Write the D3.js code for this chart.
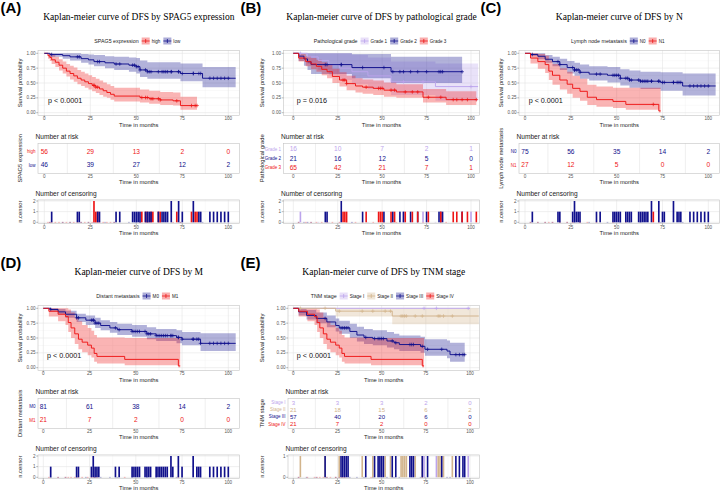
<!DOCTYPE html>
<html><head><meta charset="utf-8">
<script src="https://cdn.jsdelivr.net/npm/d3@7"></script>
<style>body{margin:0;background:#fff}svg{display:block}text{font-family:"Liberation Sans",Arial,sans-serif}</style>
</head><body><svg id="c" width="720" height="491"></svg>
<script>
// ---------- shared ticks ----------
const timeTicks=[0,25,50,75,100];
const probTicks=[0,0.25,0.5,0.75,1];
const probLabels=["0.00","0.25","0.50","0.75","1.00"];
const RED="#EE1515",BLUE="#10108C",PURPLE="#BCA4EC",TAN="#D2B48C";

// ---------- Panel A : SPAG5 ----------
const A_high_t=[0,2,3,4,6,8,10,12,14,16,18,20,22,24,26,28,30,32,34,36,38,52,57,63,70,74];
const A_high_s=[1,.96,.93,.89,.85,.80,.75,.70,.66,.62,.58,.55,.52,.49,.46,.43,.40,.37,.34,.31,.28,.255,.235,.215,.20,.12];
const A_high_lo=[1,.91,.87,.82,.77,.71,.66,.61,.56,.52,.48,.45,.42,.39,.36,.33,.30,.27,.25,.22,.19,.17,.15,.13,.12,.05];
const A_high_hi=[1,1,1,.97,.94,.9,.86,.82,.79,.76,.72,.69,.66,.63,.6,.57,.54,.51,.48,.45,.42,.39,.37,.35,.34,.27];
const A_high_end=83;
const A_high_cens=[27,27,28,29,53,55,56,58,59,62,63,72,80,82,83];
const A_low_t=[0,3,10,14,20,24,27,33,38,46,50,52,56,74,86];
const A_low_s=[1,.98,.96,.94,.91,.89,.86,.84,.82,.80,.775,.72,.69,.66,.58];
const A_low_lo=[1,.94,.91,.88,.84,.81,.78,.75,.72,.69,.66,.6,.57,.53,.43];
const A_low_hi=[1,1,1,1,.99,.98,.97,.95,.94,.93,.92,.88,.85,.83,.77];
const A_low_end=104;
const A_low_cens=[4,18,19,29,30,39,41,48,49,50,51,52,55,56,57,58,62,64,65,66,67,69,69,73,73,75,81,81,84,85,90,92,94,96,98,100];
const A_risk_high=[56,29,13,2,0];
const A_risk_low=[46,39,27,12,2];

// ---------- Panel B : grade ----------
const B_g1_t=[0,8,14,20,26,33,42,55,80];
const B_g1_s=[1,.94,.88,.81,.75,.69,.62,.52,.44];
const B_g1_lo=[1,.82,.72,.63,.55,.48,.4,.3,.2];
const B_g1_hi=[1,1,1,1,1,.97,.93,.86,.83];
const B_g1_end=104;
const B_g1_cens=[4,62,73,100];
const B_g2_t=[0,3,6,8,10,33,55];
const B_g2_s=[1,.952,.905,.857,.81,.76,.69];
const B_g2_lo=[1,.87,.79,.72,.65,.58,.5];
const B_g2_hi=[1,1,1,1,1,.99,.94];
const B_g2_end=95;
const B_g2_cens=[18,19,27,27,39,51,56,60,62,66,70,75,82,83,84,95];
const B_g3_t=[0,3,7,10,13,16,19,22,26,30,35,39,45,51,58,73,86];
const B_g3_s=[1,.92,.86,.82,.78,.73,.69,.61,.55,.49,.45,.43,.41,.38,.35,.26,.22];
const B_g3_lo=[1,.86,.78,.73,.69,.63,.58,.5,.44,.38,.34,.32,.3,.27,.25,.17,.13];
const B_g3_hi=[1,.99,.95,.92,.89,.85,.81,.74,.68,.62,.58,.56,.54,.51,.48,.4,.36];
const B_g3_end=103;
const B_g3_cens=[28,29,30,41,48,49,50,55,57,63,67,70,76,83,90,92,95,98,103];
const B_risk_g1=[16,10,7,2,1];
const B_risk_g2=[21,16,12,5,0];
const B_risk_g3=[65,42,21,7,1];

// ---------- Panel C : N ----------
const C_n0_t=[0,3,7,11,15,19,23,27,30,35,45,52,57,63,74,86];
const C_n0_s=[1,.98,.95,.9,.86,.81,.76,.72,.68,.65,.63,.58,.55,.53,.51,.45];
const C_n0_lo=[1,.95,.9,.84,.78,.72,.66,.62,.57,.54,.51,.46,.42,.4,.37,.29];
const C_n0_hi=[1,1,1,.97,.94,.91,.87,.84,.81,.78,.77,.73,.71,.69,.68,.66];
const C_n0_end=104;
const C_n0_cens=[4,18,19,26,27,27,28,29,30,39,41,48,49,50,51,52,55,56,57,58,62,63,64,65,66,67,69,69,73,73,75,76,81,81,83,84,85,90,92,94,96,98,100];
const C_n1_t=[0,3,7,11,13,15,19,23,26,30,34,39,48,55,73];
const C_n1_s=[1,.92,.86,.81,.7,.63,.55,.48,.41,.36,.26,.22,.19,.14,.03];
const C_n1_lo=[1,.83,.74,.67,.55,.47,.39,.32,.25,.2,.13,.1,.08,.05,.005];
const C_n1_hi=[1,1,.99,.96,.88,.82,.75,.69,.62,.57,.47,.44,.42,.42,.42];
const C_n1_end=74;
const C_n1_cens=[70];
const C_risk_n0=[75,56,35,14,2];
const C_risk_n1=[27,12,5,0,0];

// ---------- Panel D : M ----------
const D_m0_t=[0,4,8,12,18,23,28,31,36,40,48,56,61,72,75,85];
const D_m0_s=[1,.98,.94,.9,.84,.8,.75,.71,.67,.64,.61,.57,.54,.51,.48,.41];
const D_m0_lo=[1,.95,.9,.84,.77,.72,.67,.63,.59,.55,.52,.48,.45,.41,.38,.28];
const D_m0_hi=[1,1,.99,.96,.91,.88,.84,.8,.77,.74,.72,.68,.65,.63,.6,.58];
const D_m0_end=104;
const D_m0_cens=[4,18,19,26,27,27,28,29,30,39,41,48,49,50,51,52,55,56,57,58,61,62,63,64,65,66,67,69,69,70,73,73,75,81,81,83,84,85,90,92,94,96,98,100];
const D_m1_t=[0,3,8,12,13.5,15,17,19,21,24,26,27.5,29,44,73];
const D_m1_s=[1,.95,.9,.86,.76,.67,.57,.48,.43,.38,.33,.24,.19,.14,.03];
const D_m1_lo=[1,.86,.78,.72,.6,.5,.4,.31,.26,.21,.17,.1,.07,.04,.005];
const D_m1_hi=[1,1,1,1,.98,.93,.85,.78,.72,.67,.62,.55,.51,.5,.5];
const D_m1_end=74;
const D_m1_cens=[];
const D_risk_m0=[81,61,38,14,2];
const D_risk_m1=[21,7,2,0,0];

// ---------- Panel E : TNM ----------
const E_s1_t=[0], E_s1_s=[1], E_s1_lo=[1], E_s1_hi=[1];
const E_s1_end=100;
const E_s1_cens=[74,81,99];
const E_s2_t=[0,24,56];
const E_s2_s=[1,.952,.87];
const E_s2_lo=[1,.86,.73];
const E_s2_hi=[1,1,1];
const E_s2_end=105;
const E_s2_cens=[4,18,26,39,45,52,55,61,62,63,64,69,73,82,83,85,90];
const E_s3_t=[0,3,7.5,13,19,24,26,32,36,40,45,53,57,60,72,74.5,87,88.7];
const E_s3_s=[1,.94,.88,.83,.77,.71,.67,.61,.55,.51,.49,.45,.42,.39,.36,.31,.28,.22];
const E_s3_lo=[1,.88,.81,.75,.68,.61,.57,.5,.44,.4,.38,.34,.31,.28,.25,.2,.16,.1];
const E_s3_hi=[1,1,.97,.93,.88,.83,.79,.74,.69,.65,.63,.6,.57,.54,.52,.48,.46,.42];
const E_s3_end=97;
const E_s3_cens=[18,27,28,29,30,31,41,46,48,49,50,51,56,58,66,67,68,73,76,84,92,94,96,97];
const E_s4_t=[0,3,8,12,13.5,15,17,19,21,24,26,27.5,29,44,73];
const E_s4_s=[1,.95,.9,.86,.76,.67,.57,.48,.43,.38,.33,.24,.19,.14,.03];
const E_s4_lo=[1,.86,.78,.72,.6,.5,.4,.31,.26,.21,.17,.1,.07,.04,.005];
const E_s4_hi=[1,1,1,1,.98,.93,.85,.78,.72,.67,.62,.55,.51,.5,.5];
const E_s4_end=74;
const E_s4_cens=[];
const E_risk_s1=[3,3,3,2,0];
const E_risk_s2=[21,18,15,6,2];
const E_risk_s3=[57,40,20,6,0];
const E_risk_s4=[21,7,2,0,0];

// ---------- build panel configs ----------
const grp=(name,color,t,s,lo,hi,end,cens,risk)=>({name,color,t,s,lo,hi,end,cens,risk});
const panels=[
 {label:"(A)",ox:0,oy:0,left:38,x0:44.3,x100:228.3,ylx:20,title:"Kaplan-meier curve of DFS by SPAG5 expression",
  legend:"SPAG5 expression",pval:"p < 0.0001",cmax:2,
  groups:[grp("high",RED,A_high_t,A_high_s,A_high_lo,A_high_hi,A_high_end,A_high_cens,A_risk_high),
          grp("low",BLUE,A_low_t,A_low_s,A_low_lo,A_low_hi,A_low_end,A_low_cens,A_risk_low)]},
 {label:"(B)",ox:240,oy:0,left:283.5,x0:293.3,x100:471,ylx:22,title:"Kaplan-meier curve of DFS by pathological grade",
  legend:"Pathological grade",pval:"p = 0.016",cmax:2,
  groups:[grp("Grade 1",PURPLE,B_g1_t,B_g1_s,B_g1_lo,B_g1_hi,B_g1_end,B_g1_cens,B_risk_g1),
          grp("Grade 2",BLUE,B_g2_t,B_g2_s,B_g2_lo,B_g2_hi,B_g2_end,B_g2_cens,B_risk_g2),
          grp("Grade 3",RED,B_g3_t,B_g3_s,B_g3_lo,B_g3_hi,B_g3_end,B_g3_cens,B_risk_g3)]},
 {label:"(C)",ox:480,oy:0,left:519,x0:525,x100:708.3,ylx:21,title:"Kaplan-meier curve of DFS by N",
  legend:"Lymph node metastasis",pval:"p < 0.0001",cmax:2,
  groups:[grp("N0",BLUE,C_n0_t,C_n0_s,C_n0_lo,C_n0_hi,C_n0_end,C_n0_cens,C_risk_n0),
          grp("N1",RED,C_n1_t,C_n1_s,C_n1_lo,C_n1_hi,C_n1_end,C_n1_cens,C_risk_n1)]},
 {label:"(D)",ox:0,oy:255,left:38,x0:43.3,x100:228.3,ylx:20,title:"Kaplan-meier curve of DFS by M",
  legend:"Distant metastasis",pval:"p < 0.0001",cmax:2,
  groups:[grp("M0",BLUE,D_m0_t,D_m0_s,D_m0_lo,D_m0_hi,D_m0_end,D_m0_cens,D_risk_m0),
          grp("M1",RED,D_m1_t,D_m1_s,D_m1_lo,D_m1_hi,D_m1_end,D_m1_cens,D_risk_m1)]},
 {label:"(E)",ox:240,oy:255,left:288,x0:293.3,x100:470,ylx:22,title:"Kaplan-meier curve of DFS by TNM stage",
  legend:"TNM stage",pval:"p < 0.0001",cmax:1,
  groups:[grp("Stage I",PURPLE,E_s1_t,E_s1_s,E_s1_lo,E_s1_hi,E_s1_end,E_s1_cens,E_risk_s1),
          grp("Stage II",TAN,E_s2_t,E_s2_s,E_s2_lo,E_s2_hi,E_s2_end,E_s2_cens,E_risk_s2),
          grp("Stage III",BLUE,E_s3_t,E_s3_s,E_s3_lo,E_s3_hi,E_s3_end,E_s3_cens,E_risk_s3),
          grp("Stage IV",RED,E_s4_t,E_s4_s,E_s4_lo,E_s4_hi,E_s4_end,E_s4_cens,E_risk_s4)]}
];

const svg=d3.select("#c");
svg.append("rect").attr("width",720).attr("height",491).attr("fill","#fff");
const BORDER="#c4c4c4",MAJ="#e4e4e4",MIN="#f1f1f1",TICK="#555";
let clipId=0;

function stepPts(g){const p=g.t.map((t,i)=>[t,g.s[i],g.lo[i],g.hi[i]]);const l=p[p.length-1];p.push([g.end,l[1],l[2],l[3]]);return p;}
function survAt(g,c){const i=Math.max(0,d3.bisectRight(g.t,c)-1);return g.s[i];}

function drawPanel(P){
  const G=svg.append("g");
  const oy=P.oy, L=P.left, R=P.ox+239.6;
  const x=d3.scaleLinear().domain([0,100]).range([P.x0,P.x100]);
  const cx=(L+R)/2;
  // label & title
  G.append("text").attr("x",P.ox+0.5).attr("y",oy+12.5).attr("font-size",15).attr("font-weight","bold").text(P.label);
  G.append("text").attr("x",cx).attr("y",oy+19.8).attr("text-anchor","middle").attr("font-size",9.5)
   .style("font-family","'Liberation Serif','Times New Roman',serif").text(P.title);
  // legend
  const lg=G.append("g");
  let lx=0;
  const lt=lg.append("text").attr("x",0).attr("y",oy+43).attr("font-size",5.3).attr("fill","#222").text(P.legend);
  lx=lt.node().getComputedTextLength()+3;
  P.groups.forEach(g=>{
    const k=lg.append("g").attr("transform",`translate(${lx},${oy+37.5})`);
    k.append("rect").attr("width",8).attr("height",7).attr("fill",g.color).attr("fill-opacity",0.35);
    k.append("line").attr("x1",0).attr("x2",8).attr("y1",3.5).attr("y2",3.5).attr("stroke",g.color).attr("stroke-width",0.8);
    k.append("line").attr("x1",4).attr("x2",4).attr("y1",1.5).attr("y2",5.5).attr("stroke",g.color).attr("stroke-width",0.8);
    const tt=lg.append("text").attr("x",lx+10).attr("y",oy+43).attr("font-size",4.6).attr("fill","#222").text(g.name);
    lx+=10+tt.node().getComputedTextLength()+3;
  });
  lg.attr("transform",`translate(${cx-lx/2},0)`);

  // ---------- KM plot ----------
  const y=d3.scaleLinear().domain([0,1]).range([oy+112.7,oy+53.3]);
  const top=y(1.05),bot=y(-0.05);
  const cid="clip"+(clipId++);
  G.append("clipPath").attr("id",cid).append("rect").attr("x",L).attr("y",top).attr("width",R-L).attr("height",bot-top);
  const grid=G.append("g");
  [12.5,37.5,62.5,87.5].forEach(v=>grid.append("line").attr("x1",x(v)).attr("x2",x(v)).attr("y1",top).attr("y2",bot).attr("stroke",MIN).attr("stroke-width",0.4));
  [0.125,0.375,0.625,0.875].forEach(v=>grid.append("line").attr("x1",L).attr("x2",R).attr("y1",y(v)).attr("y2",y(v)).attr("stroke",MIN).attr("stroke-width",0.4));
  timeTicks.forEach(v=>grid.append("line").attr("x1",x(v)).attr("x2",x(v)).attr("y1",top).attr("y2",bot).attr("stroke",MAJ).attr("stroke-width",0.6));
  probTicks.forEach(v=>grid.append("line").attr("x1",L).attr("x2",R).attr("y1",y(v)).attr("y2",y(v)).attr("stroke",MAJ).attr("stroke-width",0.6));
  const plot=G.append("g").attr("clip-path",`url(#${cid})`);
  const area=d3.area().curve(d3.curveStepAfter).x(d=>x(d[0])).y0(d=>y(d[2])).y1(d=>y(d[3]));
  const line=d3.line().curve(d3.curveStepAfter).x(d=>x(d[0])).y(d=>y(d[1]));
  P.groups.forEach(g=>{plot.append("path").attr("d",area(stepPts(g))).attr("fill",g.color).attr("fill-opacity",0.32);});
  P.groups.forEach(g=>{
    plot.append("path").attr("d",line(stepPts(g))).attr("fill","none").attr("stroke",g.color).attr("stroke-width",0.95);
    g.cens.forEach(c=>{
      const px=x(c),py=y(survAt(g,c));
      plot.append("path").attr("d",`M${px-1.8},${py}H${px+1.8}M${px},${py-1.8}V${py+1.8}`).attr("stroke",g.color).attr("stroke-width",0.7);
    });
  });
  G.append("rect").attr("x",L).attr("y",top).attr("width",R-L).attr("height",bot-top).attr("fill","none").attr("stroke",BORDER).attr("stroke-width",0.6);
  // axes
  probTicks.forEach((v,i)=>{
    G.append("line").attr("x1",L-1.8).attr("x2",L).attr("y1",y(v)).attr("y2",y(v)).attr("stroke",TICK).attr("stroke-width",0.4);
    G.append("text").attr("x",L-2.5).attr("y",y(v)+1.6).attr("text-anchor","end").attr("font-size",4.6).attr("fill","#555").text(probLabels[i]);
  });
  timeTicks.forEach(v=>{
    G.append("line").attr("x1",x(v)).attr("x2",x(v)).attr("y1",bot).attr("y2",bot+1.8).attr("stroke",TICK).attr("stroke-width",0.4);
    G.append("text").attr("x",x(v)).attr("y",oy+120.2).attr("text-anchor","middle").attr("font-size",4.6).attr("fill","#555").text(v);
  });
  G.append("text").attr("x",cx).attr("y",oy+127).attr("text-anchor","middle").attr("font-size",5.8).attr("fill","#222").text("Time in months");
  G.append("text").attr("transform",`translate(${P.ox+P.ylx+2},${(top+bot)/2}) rotate(-90)`).attr("text-anchor","middle").attr("font-size",5.8).attr("fill","#222").text("Survival probability");
  G.append("text").attr("x",x(2)).attr("y",y(0.21)+2.5).attr("font-size",7.2).attr("fill","#111").text(P.pval);

  // ---------- risk table ----------
  const n=P.groups.length;
  const tTop=oy+143.3,tBot=oy+173.3;
  const ty=d3.scaleLinear().domain([0.4,n+0.6]).range([tTop,tBot]);
  G.append("text").attr("x",L-2.5).attr("y",oy+139.3).attr("font-size",6.6).attr("fill","#222").text("Number at risk");
  [12.5,37.5,62.5,87.5].forEach(v=>G.append("line").attr("x1",x(v)).attr("x2",x(v)).attr("y1",tTop).attr("y2",tBot).attr("stroke",MAJ).attr("stroke-width",0.6));
  G.append("rect").attr("x",L).attr("y",tTop).attr("width",R-L).attr("height",tBot-tTop).attr("fill","none").attr("stroke",BORDER).attr("stroke-width",0.6);
  const nfs=n>3?6:6.6;
  P.groups.forEach((g,i)=>{
    const ry=ty(i+1);
    g.risk.forEach((r,j)=>G.append("text").attr("x",x(timeTicks[j])).attr("y",ry+nfs*0.36).attr("text-anchor","middle").attr("font-size",nfs).attr("fill",g.color).text(r));
    G.append("text").attr("x",L-2.5).attr("y",ry+1.6).attr("text-anchor","end").attr("font-size",4.5).attr("fill",g.color).text(g.name);
  });
  timeTicks.forEach(v=>G.append("text").attr("x",x(v)).attr("y",oy+178.3).attr("text-anchor","middle").attr("font-size",4.6).attr("fill","#555").text(v));
  G.append("text").attr("x",cx).attr("y",oy+183.6).attr("text-anchor","middle").attr("font-size",5.8).attr("fill","#222").text("Time in months");
  G.append("text").attr("transform",`translate(${P.ox+P.ylx+2},${(tTop+tBot)/2}) rotate(-90)`).attr("text-anchor","middle").attr("font-size",5.8).attr("fill","#222").text(P.legend);

  // ---------- censoring plot ----------
  const cy=d3.scaleLinear().domain([0,P.cmax]).range([oy+222.3,oy+201]);
  const cTop=cy(P.cmax*1.05),cBot=cy(-0.05*P.cmax);
  G.append("text").attr("x",L-2.5).attr("y",oy+195.6).attr("font-size",6.6).attr("fill","#222").text("Number of censoring");
  const cticks=d3.range(0,P.cmax+1);
  [12.5,37.5,62.5,87.5].forEach(v=>G.append("line").attr("x1",x(v)).attr("x2",x(v)).attr("y1",cTop).attr("y2",cBot).attr("stroke",MIN).attr("stroke-width",0.4));
  timeTicks.forEach(v=>G.append("line").attr("x1",x(v)).attr("x2",x(v)).attr("y1",cTop).attr("y2",cBot).attr("stroke",MAJ).attr("stroke-width",0.6));
  cticks.forEach(v=>G.append("line").attr("x1",L).attr("x2",R).attr("y1",cy(v)).attr("y2",cy(v)).attr("stroke",MAJ).attr("stroke-width",0.6));
  const bw=Math.abs(x(0.9)-x(0));
  P.groups.forEach(g=>{
    g.t.slice(1).forEach(t=>G.append("rect").attr("x",x(t)-bw/2).attr("y",cy(0)-0.4).attr("width",bw).attr("height",0.8).attr("fill",g.color).attr("fill-opacity",0.35));
  });
  P.groups.forEach(g=>{
    const counts=d3.rollups(g.cens,v=>v.length,d=>d);
    counts.forEach(([t,c])=>{
      if(t>106) return;
      G.append("rect").attr("x",x(t)-bw/2).attr("y",cy(c)).attr("width",bw).attr("height",cy(0)-cy(c)).attr("fill",g.color);
    });
  });
  G.append("rect").attr("x",L).attr("y",cTop).attr("width",R-L).attr("height",cBot-cTop).attr("fill","none").attr("stroke",BORDER).attr("stroke-width",0.6);
  cticks.forEach(v=>{
    G.append("line").attr("x1",L-1.8).attr("x2",L).attr("y1",cy(v)).attr("y2",cy(v)).attr("stroke",TICK).attr("stroke-width",0.4);
    G.append("text").attr("x",L-2.5).attr("y",cy(v)+1.6).attr("text-anchor","end").attr("font-size",4.6).attr("fill","#555").text(v);
  });
  timeTicks.forEach(v=>{
    G.append("line").attr("x1",x(v)).attr("x2",x(v)).attr("y1",cBot).attr("y2",cBot+1.8).attr("stroke",TICK).attr("stroke-width",0.4);
    G.append("text").attr("x",x(v)).attr("y",oy+229.3).attr("text-anchor","middle").attr("font-size",4.6).attr("fill","#555").text(v);
  });
  G.append("text").attr("x",cx).attr("y",oy+235.2).attr("text-anchor","middle").attr("font-size",5.8).attr("fill","#222").text("Time in months");
  G.append("text").attr("transform",`translate(${P.ox+P.ylx+2},${(cTop+cBot)/2}) rotate(-90)`).attr("text-anchor","middle").attr("font-size",5.8).attr("fill","#222").text("n.censor");
}
panels.forEach(drawPanel);
</script></body></html>
